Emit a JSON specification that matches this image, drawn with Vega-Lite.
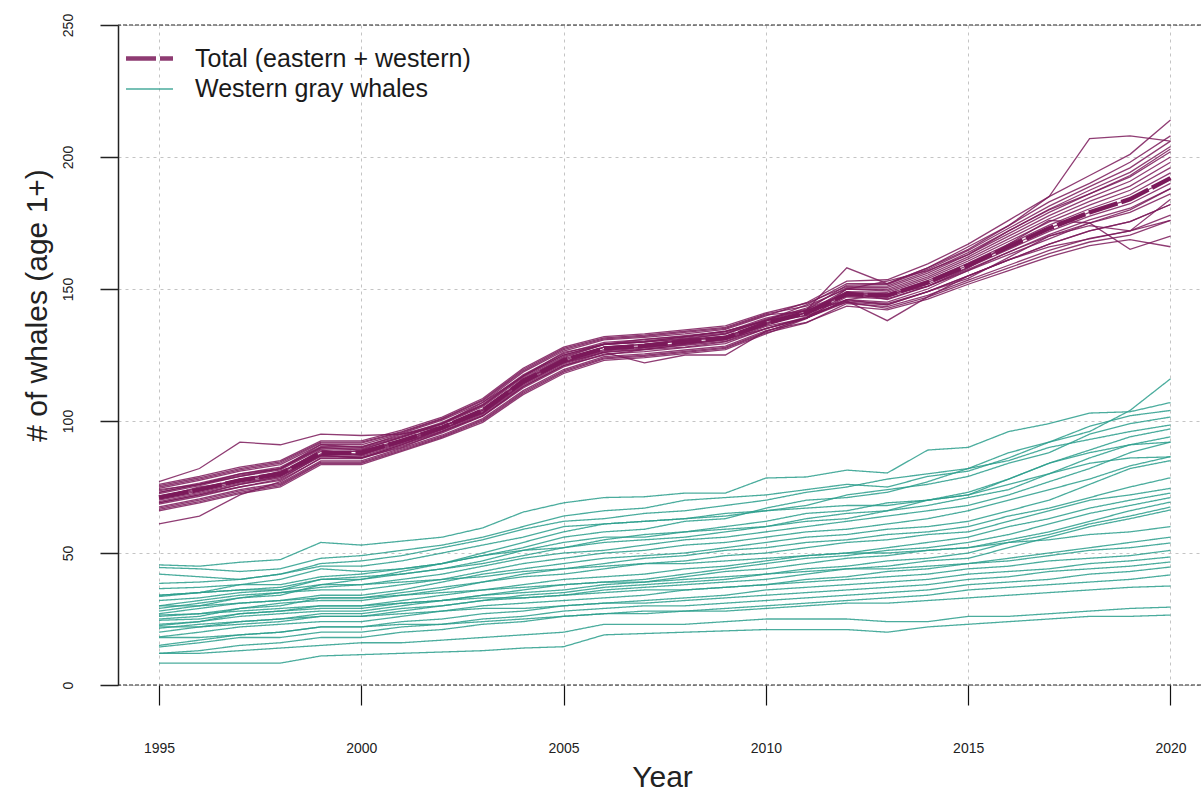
{
"$schema":"https://vega.github.io/schema/vega-lite/v6.json",
"width":1083,"height":660,
"autosize":{"type":"none"},
"padding":{"left":118,"top":25,"right":0,"bottom":108},
"background":"white",
"config":{"view":{"stroke":null},"font":"Liberation Sans"},
"datasets":{
"hl":[{"y":0},{"y":250}],
"med":[{"x":1995,"y":71},{"x":1996,"y":74},{"x":1997,"y":77.5},{"x":1998,"y":80},{"x":1999,"y":88},{"x":2000,"y":88},{"x":2001,"y":92.5},{"x":2002,"y":97.5},{"x":2003,"y":104},{"x":2004,"y":115},{"x":2005,"y":123},{"x":2006,"y":127.5},{"x":2007,"y":128.5},{"x":2008,"y":130},{"x":2009,"y":131.5},{"x":2010,"y":137},{"x":2011,"y":141},{"x":2012,"y":148},{"x":2013,"y":147.5},{"x":2014,"y":152.5},{"x":2015,"y":159},{"x":2016,"y":166},{"x":2017,"y":173},{"x":2018,"y":179},{"x":2019,"y":184},{"x":2020,"y":192}],
"total":[
{"i":1,"x":1995,"y":77},{"i":1,"x":1996,"y":82},{"i":1,"x":1997,"y":92},{"i":1,"x":1998,"y":91},{"i":1,"x":1999,"y":95},{"i":1,"x":2000,"y":94.5},{"i":1,"x":2001,"y":95},{"i":1,"x":2002,"y":98},{"i":1,"x":2003,"y":104},{"i":1,"x":2004,"y":116},{"i":1,"x":2005,"y":124},{"i":1,"x":2006,"y":129},{"i":1,"x":2007,"y":130},{"i":1,"x":2008,"y":132},{"i":1,"x":2009,"y":134},{"i":1,"x":2010,"y":138},{"i":1,"x":2011,"y":141},{"i":1,"x":2012,"y":150},{"i":1,"x":2013,"y":153},{"i":1,"x":2014,"y":157},{"i":1,"x":2015,"y":163},{"i":1,"x":2016,"y":172},{"i":1,"x":2017,"y":180},{"i":1,"x":2018,"y":186},{"i":1,"x":2019,"y":193},{"i":1,"x":2020,"y":203},
{"i":2,"x":1995,"y":61},{"i":2,"x":1996,"y":64},{"i":2,"x":1997,"y":72},{"i":2,"x":1998,"y":77},{"i":2,"x":1999,"y":86},{"i":2,"x":2000,"y":86},{"i":2,"x":2001,"y":91},{"i":2,"x":2002,"y":96},{"i":2,"x":2003,"y":102},{"i":2,"x":2004,"y":113},{"i":2,"x":2005,"y":121},{"i":2,"x":2006,"y":125},{"i":2,"x":2007,"y":127},{"i":2,"x":2008,"y":129},{"i":2,"x":2009,"y":131},{"i":2,"x":2010,"y":135},{"i":2,"x":2011,"y":139},{"i":2,"x":2012,"y":145},{"i":2,"x":2013,"y":144},{"i":2,"x":2014,"y":149},{"i":2,"x":2015,"y":155},{"i":2,"x":2016,"y":161},{"i":2,"x":2017,"y":166},{"i":2,"x":2018,"y":169},{"i":2,"x":2019,"y":172},{"i":2,"x":2020,"y":176},
{"i":3,"x":1995,"y":74.5},{"i":3,"x":1996,"y":77.5},{"i":3,"x":1997,"y":81},{"i":3,"x":1998,"y":83.5},{"i":3,"x":1999,"y":91},{"i":3,"x":2000,"y":91},{"i":3,"x":2001,"y":95.3},{"i":3,"x":2002,"y":100.3},{"i":3,"x":2003,"y":107},{"i":3,"x":2004,"y":118.5},{"i":3,"x":2005,"y":126.5},{"i":3,"x":2006,"y":130.7},{"i":3,"x":2007,"y":131.7},{"i":3,"x":2008,"y":133},{"i":3,"x":2009,"y":134.7},{"i":3,"x":2010,"y":139.8},{"i":3,"x":2011,"y":144.8},{"i":3,"x":2012,"y":153},{"i":3,"x":2013,"y":153.5},{"i":3,"x":2014,"y":159.5},{"i":3,"x":2015,"y":167},{"i":3,"x":2016,"y":176},{"i":3,"x":2017,"y":185},{"i":3,"x":2018,"y":193},{"i":3,"x":2019,"y":201},{"i":3,"x":2020,"y":214},
{"i":4,"x":1995,"y":69},{"i":4,"x":1996,"y":72},{"i":4,"x":1997,"y":76},{"i":4,"x":1998,"y":79},{"i":4,"x":1999,"y":87},{"i":4,"x":2000,"y":86},{"i":4,"x":2001,"y":91},{"i":4,"x":2002,"y":97},{"i":4,"x":2003,"y":103},{"i":4,"x":2004,"y":114},{"i":4,"x":2005,"y":122},{"i":4,"x":2006,"y":126},{"i":4,"x":2007,"y":122},{"i":4,"x":2008,"y":125},{"i":4,"x":2009,"y":125},{"i":4,"x":2010,"y":134},{"i":4,"x":2011,"y":139},{"i":4,"x":2012,"y":146},{"i":4,"x":2013,"y":145},{"i":4,"x":2014,"y":150},{"i":4,"x":2015,"y":157},{"i":4,"x":2016,"y":164},{"i":4,"x":2017,"y":170},{"i":4,"x":2018,"y":175},{"i":4,"x":2019,"y":180},{"i":4,"x":2020,"y":188},
{"i":5,"x":1995,"y":73},{"i":5,"x":1996,"y":76},{"i":5,"x":1997,"y":79},{"i":5,"x":1998,"y":82},{"i":5,"x":1999,"y":90},{"i":5,"x":2000,"y":89},{"i":5,"x":2001,"y":94},{"i":5,"x":2002,"y":99},{"i":5,"x":2003,"y":106},{"i":5,"x":2004,"y":117},{"i":5,"x":2005,"y":125},{"i":5,"x":2006,"y":129},{"i":5,"x":2007,"y":130},{"i":5,"x":2008,"y":131},{"i":5,"x":2009,"y":133},{"i":5,"x":2010,"y":138},{"i":5,"x":2011,"y":142},{"i":5,"x":2012,"y":158},{"i":5,"x":2013,"y":152},{"i":5,"x":2014,"y":158},{"i":5,"x":2015,"y":166},{"i":5,"x":2016,"y":174},{"i":5,"x":2017,"y":185},{"i":5,"x":2018,"y":207},{"i":5,"x":2019,"y":208},{"i":5,"x":2020,"y":206},
{"i":6,"x":1995,"y":69.5},{"i":6,"x":1996,"y":72.5},{"i":6,"x":1997,"y":76},{"i":6,"x":1998,"y":78.5},{"i":6,"x":1999,"y":86.6},{"i":6,"x":2000,"y":86.6},{"i":6,"x":2001,"y":91.3},{"i":6,"x":2002,"y":96.3},{"i":6,"x":2003,"y":102.6},{"i":6,"x":2004,"y":113.5},{"i":6,"x":2005,"y":121.5},{"i":6,"x":2006,"y":126.2},{"i":6,"x":2007,"y":127.2},{"i":6,"x":2008,"y":128.7},{"i":6,"x":2009,"y":130.2},{"i":6,"x":2010,"y":135.8},{"i":6,"x":2011,"y":139},{"i":6,"x":2012,"y":145.5},{"i":6,"x":2013,"y":138},{"i":6,"x":2014,"y":147},{"i":6,"x":2015,"y":155},{"i":6,"x":2016,"y":161},{"i":6,"x":2017,"y":167},{"i":6,"x":2018,"y":172},{"i":6,"x":2019,"y":175.5},{"i":6,"x":2020,"y":182},
{"i":7,"x":1995,"y":71},{"i":7,"x":1996,"y":74},{"i":7,"x":1997,"y":78},{"i":7,"x":1998,"y":80},{"i":7,"x":1999,"y":89},{"i":7,"x":2000,"y":87},{"i":7,"x":2001,"y":93},{"i":7,"x":2002,"y":98},{"i":7,"x":2003,"y":104},{"i":7,"x":2004,"y":115},{"i":7,"x":2005,"y":123},{"i":7,"x":2006,"y":128},{"i":7,"x":2007,"y":129},{"i":7,"x":2008,"y":131},{"i":7,"x":2009,"y":132},{"i":7,"x":2010,"y":137},{"i":7,"x":2011,"y":141},{"i":7,"x":2012,"y":146},{"i":7,"x":2013,"y":148},{"i":7,"x":2014,"y":151},{"i":7,"x":2015,"y":158},{"i":7,"x":2016,"y":167},{"i":7,"x":2017,"y":176},{"i":7,"x":2018,"y":175},{"i":7,"x":2019,"y":165},{"i":7,"x":2020,"y":170},
{"i":8,"x":1995,"y":75.5},{"i":8,"x":1996,"y":78.5},{"i":8,"x":1997,"y":82},{"i":8,"x":1998,"y":84.5},{"i":8,"x":1999,"y":92},{"i":8,"x":2000,"y":92},{"i":8,"x":2001,"y":96},{"i":8,"x":2002,"y":101},{"i":8,"x":2003,"y":108},{"i":8,"x":2004,"y":119.5},{"i":8,"x":2005,"y":127.5},{"i":8,"x":2006,"y":131.5},{"i":8,"x":2007,"y":132.5},{"i":8,"x":2008,"y":134},{"i":8,"x":2009,"y":135.5},{"i":8,"x":2010,"y":140.6},{"i":8,"x":2011,"y":143.5},{"i":8,"x":2012,"y":150},{"i":8,"x":2013,"y":149.3},{"i":8,"x":2014,"y":154.6},{"i":8,"x":2015,"y":161.4},{"i":8,"x":2016,"y":169},{"i":8,"x":2017,"y":176.6},{"i":8,"x":2018,"y":183.2},{"i":8,"x":2019,"y":189},{"i":8,"x":2020,"y":198},
{"i":9,"x":1995,"y":66.5},{"i":9,"x":1996,"y":69.5},{"i":9,"x":1997,"y":73},{"i":9,"x":1998,"y":75.5},{"i":9,"x":1999,"y":84},{"i":9,"x":2000,"y":84},{"i":9,"x":2001,"y":88.9},{"i":9,"x":2002,"y":93.9},{"i":9,"x":2003,"y":100},{"i":9,"x":2004,"y":110.5},{"i":9,"x":2005,"y":118.5},{"i":9,"x":2006,"y":123.5},{"i":9,"x":2007,"y":124.5},{"i":9,"x":2008,"y":126},{"i":9,"x":2009,"y":127.5},{"i":9,"x":2010,"y":133.4},{"i":9,"x":2011,"y":137.2},{"i":9,"x":2012,"y":144.5},{"i":9,"x":2013,"y":143.3},{"i":9,"x":2014,"y":147.6},{"i":9,"x":2015,"y":153.4},{"i":9,"x":2016,"y":159},{"i":9,"x":2017,"y":164.6},{"i":9,"x":2018,"y":169.2},{"i":9,"x":2019,"y":172},{"i":9,"x":2020,"y":178},
{"i":10,"x":1995,"y":72.5},{"i":10,"x":1996,"y":75.5},{"i":10,"x":1997,"y":79},{"i":10,"x":1998,"y":81.5},{"i":10,"x":1999,"y":89.4},{"i":10,"x":2000,"y":89.4},{"i":10,"x":2001,"y":93.7},{"i":10,"x":2002,"y":98.7},{"i":10,"x":2003,"y":105.4},{"i":10,"x":2004,"y":116.5},{"i":10,"x":2005,"y":124.5},{"i":10,"x":2006,"y":128.9},{"i":10,"x":2007,"y":129.9},{"i":10,"x":2008,"y":131.4},{"i":10,"x":2009,"y":132.9},{"i":10,"x":2010,"y":138.2},{"i":10,"x":2011,"y":142.8},{"i":10,"x":2012,"y":150.5},{"i":10,"x":2013,"y":150.5},{"i":10,"x":2014,"y":156},{"i":10,"x":2015,"y":163},{"i":10,"x":2016,"y":171},{"i":10,"x":2017,"y":179},{"i":10,"x":2018,"y":186},{"i":10,"x":2019,"y":192.5},{"i":10,"x":2020,"y":202},
{"i":11,"x":1995,"y":68.5},{"i":11,"x":1996,"y":71.5},{"i":11,"x":1997,"y":75},{"i":11,"x":1998,"y":77.5},{"i":11,"x":1999,"y":85.8},{"i":11,"x":2000,"y":85.8},{"i":11,"x":2001,"y":90.5},{"i":11,"x":2002,"y":95.5},{"i":11,"x":2003,"y":101.8},{"i":11,"x":2004,"y":112.5},{"i":11,"x":2005,"y":120.5},{"i":11,"x":2006,"y":125.3},{"i":11,"x":2007,"y":126.3},{"i":11,"x":2008,"y":127.8},{"i":11,"x":2009,"y":129.3},{"i":11,"x":2010,"y":135},{"i":11,"x":2011,"y":139.4},{"i":11,"x":2012,"y":147},{"i":11,"x":2013,"y":146.3},{"i":11,"x":2014,"y":151.1},{"i":11,"x":2015,"y":157.4},{"i":11,"x":2016,"y":164},{"i":11,"x":2017,"y":170.6},{"i":11,"x":2018,"y":176.2},{"i":11,"x":2019,"y":180.6},{"i":11,"x":2020,"y":188},
{"i":12,"x":1995,"y":73.5},{"i":12,"x":1996,"y":76.5},{"i":12,"x":1997,"y":80},{"i":12,"x":1998,"y":82.5},{"i":12,"x":1999,"y":90.3},{"i":12,"x":2000,"y":90.3},{"i":12,"x":2001,"y":94.5},{"i":12,"x":2002,"y":99.5},{"i":12,"x":2003,"y":106.3},{"i":12,"x":2004,"y":117.5},{"i":12,"x":2005,"y":125.5},{"i":12,"x":2006,"y":129.8},{"i":12,"x":2007,"y":130.8},{"i":12,"x":2008,"y":132.3},{"i":12,"x":2009,"y":133.8},{"i":12,"x":2010,"y":139},{"i":12,"x":2011,"y":142.4},{"i":12,"x":2012,"y":148.5},{"i":12,"x":2013,"y":148.1},{"i":12,"x":2014,"y":153.2},{"i":12,"x":2015,"y":159.8},{"i":12,"x":2016,"y":167},{"i":12,"x":2017,"y":174.2},{"i":12,"x":2018,"y":180.4},{"i":12,"x":2019,"y":185.7},{"i":12,"x":2020,"y":194},
{"i":13,"x":1995,"y":70.5},{"i":13,"x":1996,"y":73.5},{"i":13,"x":1997,"y":77},{"i":13,"x":1998,"y":79.5},{"i":13,"x":1999,"y":87.5},{"i":13,"x":2000,"y":87.5},{"i":13,"x":2001,"y":92.1},{"i":13,"x":2002,"y":97.1},{"i":13,"x":2003,"y":103.5},{"i":13,"x":2004,"y":114.5},{"i":13,"x":2005,"y":122.5},{"i":13,"x":2006,"y":127},{"i":13,"x":2007,"y":128},{"i":13,"x":2008,"y":129.5},{"i":13,"x":2009,"y":131},{"i":13,"x":2010,"y":136.6},{"i":13,"x":2011,"y":142},{"i":13,"x":2012,"y":151.5},{"i":13,"x":2013,"y":151.7},{"i":13,"x":2014,"y":157.4},{"i":13,"x":2015,"y":164.6},{"i":13,"x":2016,"y":173},{"i":13,"x":2017,"y":181.4},{"i":13,"x":2018,"y":188.8},{"i":13,"x":2019,"y":195.9},{"i":13,"x":2020,"y":206},
{"i":14,"x":1995,"y":76},{"i":14,"x":1996,"y":79},{"i":14,"x":1997,"y":82.5},{"i":14,"x":1998,"y":85},{"i":14,"x":1999,"y":92.5},{"i":14,"x":2000,"y":92.5},{"i":14,"x":2001,"y":96.5},{"i":14,"x":2002,"y":101.5},{"i":14,"x":2003,"y":108.5},{"i":14,"x":2004,"y":120},{"i":14,"x":2005,"y":128},{"i":14,"x":2006,"y":132},{"i":14,"x":2007,"y":133},{"i":14,"x":2008,"y":134.5},{"i":14,"x":2009,"y":136},{"i":14,"x":2010,"y":141},{"i":14,"x":2011,"y":144.6},{"i":14,"x":2012,"y":151},{"i":14,"x":2013,"y":151.1},{"i":14,"x":2014,"y":156.7},{"i":14,"x":2015,"y":163.8},{"i":14,"x":2016,"y":172},{"i":14,"x":2017,"y":180.2},{"i":14,"x":2018,"y":187.4},{"i":14,"x":2019,"y":194.2},{"i":14,"x":2020,"y":204},
{"i":15,"x":1995,"y":67.5},{"i":15,"x":1996,"y":70.5},{"i":15,"x":1997,"y":74},{"i":15,"x":1998,"y":76.5},{"i":15,"x":1999,"y":84.9},{"i":15,"x":2000,"y":84.9},{"i":15,"x":2001,"y":89.7},{"i":15,"x":2002,"y":94.7},{"i":15,"x":2003,"y":100.9},{"i":15,"x":2004,"y":111.5},{"i":15,"x":2005,"y":119.5},{"i":15,"x":2006,"y":124.4},{"i":15,"x":2007,"y":125.4},{"i":15,"x":2008,"y":126.9},{"i":15,"x":2009,"y":128.4},{"i":15,"x":2010,"y":134.2},{"i":15,"x":2011,"y":137.4},{"i":15,"x":2012,"y":143.5},{"i":15,"x":2013,"y":142.1},{"i":15,"x":2014,"y":146.2},{"i":15,"x":2015,"y":151.8},{"i":15,"x":2016,"y":157},{"i":15,"x":2017,"y":162.2},{"i":15,"x":2018,"y":166.4},{"i":15,"x":2019,"y":168.7},{"i":15,"x":2020,"y":166},
{"i":16,"x":1995,"y":71.5},{"i":16,"x":1996,"y":74.5},{"i":16,"x":1997,"y":78},{"i":16,"x":1998,"y":80.5},{"i":16,"x":1999,"y":88.5},{"i":16,"x":2000,"y":88.5},{"i":16,"x":2001,"y":92.9},{"i":16,"x":2002,"y":97.9},{"i":16,"x":2003,"y":104.5},{"i":16,"x":2004,"y":115.5},{"i":16,"x":2005,"y":123.5},{"i":16,"x":2006,"y":128},{"i":16,"x":2007,"y":129},{"i":16,"x":2008,"y":130.5},{"i":16,"x":2009,"y":132},{"i":16,"x":2010,"y":137.4},{"i":16,"x":2011,"y":139.9},{"i":16,"x":2012,"y":145},{"i":16,"x":2013,"y":142.7},{"i":16,"x":2014,"y":146.9},{"i":16,"x":2015,"y":152.6},{"i":16,"x":2016,"y":158},{"i":16,"x":2017,"y":163.4},{"i":16,"x":2018,"y":167.8},{"i":16,"x":2019,"y":170.4},{"i":16,"x":2020,"y":176},
{"i":17,"x":1995,"y":67},{"i":17,"x":1996,"y":70},{"i":17,"x":1997,"y":73.5},{"i":17,"x":1998,"y":76},{"i":17,"x":1999,"y":84.4},{"i":17,"x":2000,"y":84.4},{"i":17,"x":2001,"y":89.3},{"i":17,"x":2002,"y":94.3},{"i":17,"x":2003,"y":100.4},{"i":17,"x":2004,"y":111},{"i":17,"x":2005,"y":119},{"i":17,"x":2006,"y":123.9},{"i":17,"x":2007,"y":124.9},{"i":17,"x":2008,"y":126.4},{"i":17,"x":2009,"y":127.9},{"i":17,"x":2010,"y":133.8},{"i":17,"x":2011,"y":139},{"i":17,"x":2012,"y":150},{"i":17,"x":2013,"y":149.9},{"i":17,"x":2014,"y":155.3},{"i":17,"x":2015,"y":162.2},{"i":17,"x":2016,"y":170},{"i":17,"x":2017,"y":177.8},{"i":17,"x":2018,"y":184.6},{"i":17,"x":2019,"y":190.8},{"i":17,"x":2020,"y":200},
{"i":18,"x":1995,"y":73},{"i":18,"x":1996,"y":76},{"i":18,"x":1997,"y":79.5},{"i":18,"x":1998,"y":82},{"i":18,"x":1999,"y":89.8},{"i":18,"x":2000,"y":89.8},{"i":18,"x":2001,"y":94.1},{"i":18,"x":2002,"y":99.1},{"i":18,"x":2003,"y":105.8},{"i":18,"x":2004,"y":117},{"i":18,"x":2005,"y":125},{"i":18,"x":2006,"y":129.3},{"i":18,"x":2007,"y":130.3},{"i":18,"x":2008,"y":131.8},{"i":18,"x":2009,"y":133.3},{"i":18,"x":2010,"y":138.6},{"i":18,"x":2011,"y":142},{"i":18,"x":2012,"y":147.5},{"i":18,"x":2013,"y":146.9},{"i":18,"x":2014,"y":151.8},{"i":18,"x":2015,"y":158.2},{"i":18,"x":2016,"y":165},{"i":18,"x":2017,"y":171.8},{"i":18,"x":2018,"y":177.6},{"i":18,"x":2019,"y":182.3},{"i":18,"x":2020,"y":190},
{"i":19,"x":1995,"y":70},{"i":19,"x":1996,"y":73},{"i":19,"x":1997,"y":76.5},{"i":19,"x":1998,"y":79},{"i":19,"x":1999,"y":87.1},{"i":19,"x":2000,"y":87.1},{"i":19,"x":2001,"y":91.7},{"i":19,"x":2002,"y":96.7},{"i":19,"x":2003,"y":103.1},{"i":19,"x":2004,"y":114},{"i":19,"x":2005,"y":122},{"i":19,"x":2006,"y":126.6},{"i":19,"x":2007,"y":127.6},{"i":19,"x":2008,"y":129.1},{"i":19,"x":2009,"y":130.6},{"i":19,"x":2010,"y":136.2},{"i":19,"x":2011,"y":141},{"i":19,"x":2012,"y":149},{"i":19,"x":2013,"y":148.7},{"i":19,"x":2014,"y":153.9},{"i":19,"x":2015,"y":160.6},{"i":19,"x":2016,"y":168},{"i":19,"x":2017,"y":175.4},{"i":19,"x":2018,"y":181.8},{"i":19,"x":2019,"y":187.4},{"i":19,"x":2020,"y":196},
{"i":20,"x":1995,"y":75},{"i":20,"x":1996,"y":78},{"i":20,"x":1997,"y":81.5},{"i":20,"x":1998,"y":84},{"i":20,"x":1999,"y":91.6},{"i":20,"x":2000,"y":91.6},{"i":20,"x":2001,"y":95.7},{"i":20,"x":2002,"y":100.7},{"i":20,"x":2003,"y":107.6},{"i":20,"x":2004,"y":119},{"i":20,"x":2005,"y":127},{"i":20,"x":2006,"y":131.1},{"i":20,"x":2007,"y":132.1},{"i":20,"x":2008,"y":133.6},{"i":20,"x":2009,"y":135.1},{"i":20,"x":2010,"y":140.2},{"i":20,"x":2011,"y":141.5},{"i":20,"x":2012,"y":145.5},{"i":20,"x":2013,"y":144.5},{"i":20,"x":2014,"y":149},{"i":20,"x":2015,"y":155},{"i":20,"x":2016,"y":161},{"i":20,"x":2017,"y":167},{"i":20,"x":2018,"y":172},{"i":20,"x":2019,"y":175.5},{"i":20,"x":2020,"y":182},
{"i":21,"x":1995,"y":66},{"i":21,"x":1996,"y":69},{"i":21,"x":1997,"y":72.5},{"i":21,"x":1998,"y":75},{"i":21,"x":1999,"y":83.5},{"i":21,"x":2000,"y":83.5},{"i":21,"x":2001,"y":88.5},{"i":21,"x":2002,"y":93.5},{"i":21,"x":2003,"y":99.5},{"i":21,"x":2004,"y":110},{"i":21,"x":2005,"y":118},{"i":21,"x":2006,"y":123},{"i":21,"x":2007,"y":124},{"i":21,"x":2008,"y":125.5},{"i":21,"x":2009,"y":127},{"i":21,"x":2010,"y":133},{"i":21,"x":2011,"y":138.8},{"i":21,"x":2012,"y":148},{"i":21,"x":2013,"y":147.5},{"i":21,"x":2014,"y":152.5},{"i":21,"x":2015,"y":159},{"i":21,"x":2016,"y":166},{"i":21,"x":2017,"y":173},{"i":21,"x":2018,"y":179},{"i":21,"x":2019,"y":184},{"i":21,"x":2020,"y":192},
{"i":22,"x":1995,"y":71},{"i":22,"x":1996,"y":75},{"i":22,"x":1997,"y":77},{"i":22,"x":1998,"y":81},{"i":22,"x":1999,"y":87},{"i":22,"x":2000,"y":89},{"i":22,"x":2001,"y":92},{"i":22,"x":2002,"y":98},{"i":22,"x":2003,"y":103},{"i":22,"x":2004,"y":116},{"i":22,"x":2005,"y":122},{"i":22,"x":2006,"y":128},{"i":22,"x":2007,"y":128},{"i":22,"x":2008,"y":131},{"i":22,"x":2009,"y":131},{"i":22,"x":2010,"y":138},{"i":22,"x":2011,"y":140},{"i":22,"x":2012,"y":149},{"i":22,"x":2013,"y":146},{"i":22,"x":2014,"y":151},{"i":22,"x":2015,"y":157},{"i":22,"x":2016,"y":163},{"i":22,"x":2017,"y":169},{"i":22,"x":2018,"y":175},{"i":22,"x":2019,"y":179},{"i":22,"x":2020,"y":186},
{"i":23,"x":1995,"y":74},{"i":23,"x":1996,"y":76},{"i":23,"x":1997,"y":80},{"i":23,"x":1998,"y":82},{"i":23,"x":1999,"y":91},{"i":23,"x":2000,"y":90},{"i":23,"x":2001,"y":95},{"i":23,"x":2002,"y":99},{"i":23,"x":2003,"y":107},{"i":23,"x":2004,"y":117},{"i":23,"x":2005,"y":126},{"i":23,"x":2006,"y":129},{"i":23,"x":2007,"y":131},{"i":23,"x":2008,"y":132},{"i":23,"x":2009,"y":134},{"i":23,"x":2010,"y":138},{"i":23,"x":2011,"y":144},{"i":23,"x":2012,"y":152},{"i":23,"x":2013,"y":152},{"i":23,"x":2014,"y":158},{"i":23,"x":2015,"y":165},{"i":23,"x":2016,"y":174},{"i":23,"x":2017,"y":183},{"i":23,"x":2018,"y":190},{"i":23,"x":2019,"y":198},{"i":23,"x":2020,"y":208},
{"i":24,"x":1995,"y":69},{"i":24,"x":1996,"y":72},{"i":24,"x":1997,"y":75},{"i":24,"x":1998,"y":78},{"i":24,"x":1999,"y":87},{"i":24,"x":2000,"y":86},{"i":24,"x":2001,"y":90},{"i":24,"x":2002,"y":96},{"i":24,"x":2003,"y":102},{"i":24,"x":2004,"y":113},{"i":24,"x":2005,"y":121},{"i":24,"x":2006,"y":126},{"i":24,"x":2007,"y":127},{"i":24,"x":2008,"y":128},{"i":24,"x":2009,"y":130},{"i":24,"x":2010,"y":135},{"i":24,"x":2011,"y":139},{"i":24,"x":2012,"y":146},{"i":24,"x":2013,"y":144},{"i":24,"x":2014,"y":149},{"i":24,"x":2015,"y":154},{"i":24,"x":2016,"y":162},{"i":24,"x":2017,"y":170},{"i":24,"x":2018,"y":174},{"i":24,"x":2019,"y":172},{"i":24,"x":2020,"y":184}
],
"west":[
{"i":1,"x":1995,"y":45.5},{"i":1,"x":1996,"y":45},{"i":1,"x":1997,"y":46.5},{"i":1,"x":1998,"y":47.5},{"i":1,"x":1999,"y":54},{"i":1,"x":2000,"y":53},{"i":1,"x":2001,"y":54.5},{"i":1,"x":2002,"y":56},{"i":1,"x":2003,"y":59.5},{"i":1,"x":2004,"y":65.5},{"i":1,"x":2005,"y":69},{"i":1,"x":2006,"y":71},{"i":1,"x":2007,"y":71.3},{"i":1,"x":2008,"y":72.7},{"i":1,"x":2009,"y":72.7},{"i":1,"x":2010,"y":78.4},{"i":1,"x":2011,"y":78.8},{"i":1,"x":2012,"y":81.4},{"i":1,"x":2013,"y":80.3},{"i":1,"x":2014,"y":89},{"i":1,"x":2015,"y":90},{"i":1,"x":2016,"y":96},{"i":1,"x":2017,"y":99},{"i":1,"x":2018,"y":103},{"i":1,"x":2019,"y":103.5},{"i":1,"x":2020,"y":107},
{"i":2,"x":1995,"y":44.5},{"i":2,"x":1996,"y":44},{"i":2,"x":1997,"y":43},{"i":2,"x":1998,"y":44},{"i":2,"x":1999,"y":48},{"i":2,"x":2000,"y":49},{"i":2,"x":2001,"y":51},{"i":2,"x":2002,"y":53},{"i":2,"x":2003,"y":56},{"i":2,"x":2004,"y":60},{"i":2,"x":2005,"y":64},{"i":2,"x":2006,"y":66},{"i":2,"x":2007,"y":67},{"i":2,"x":2008,"y":70},{"i":2,"x":2009,"y":71},{"i":2,"x":2010,"y":72},{"i":2,"x":2011,"y":74},{"i":2,"x":2012,"y":76},{"i":2,"x":2013,"y":75},{"i":2,"x":2014,"y":79},{"i":2,"x":2015,"y":81},{"i":2,"x":2016,"y":86},{"i":2,"x":2017,"y":92},{"i":2,"x":2018,"y":96},{"i":2,"x":2019,"y":104},{"i":2,"x":2020,"y":116},
{"i":3,"x":1995,"y":42},{"i":3,"x":1996,"y":41},{"i":3,"x":1997,"y":40},{"i":3,"x":1998,"y":42},{"i":3,"x":1999,"y":46},{"i":3,"x":2000,"y":47},{"i":3,"x":2001,"y":49},{"i":3,"x":2002,"y":52},{"i":3,"x":2003,"y":55},{"i":3,"x":2004,"y":59},{"i":3,"x":2005,"y":62},{"i":3,"x":2006,"y":63},{"i":3,"x":2007,"y":65},{"i":3,"x":2008,"y":66},{"i":3,"x":2009,"y":68},{"i":3,"x":2010,"y":70},{"i":3,"x":2011,"y":73},{"i":3,"x":2012,"y":75},{"i":3,"x":2013,"y":78},{"i":3,"x":2014,"y":80},{"i":3,"x":2015,"y":82},{"i":3,"x":2016,"y":88},{"i":3,"x":2017,"y":92},{"i":3,"x":2018,"y":98},{"i":3,"x":2019,"y":102},{"i":3,"x":2020,"y":104},
{"i":4,"x":1995,"y":38.5},{"i":4,"x":1996,"y":39},{"i":4,"x":1997,"y":40},{"i":4,"x":1998,"y":42},{"i":4,"x":1999,"y":45},{"i":4,"x":2000,"y":45},{"i":4,"x":2001,"y":47},{"i":4,"x":2002,"y":50},{"i":4,"x":2003,"y":53},{"i":4,"x":2004,"y":56},{"i":4,"x":2005,"y":60},{"i":4,"x":2006,"y":61},{"i":4,"x":2007,"y":62},{"i":4,"x":2008,"y":63},{"i":4,"x":2009,"y":65},{"i":4,"x":2010,"y":66},{"i":4,"x":2011,"y":68},{"i":4,"x":2012,"y":72},{"i":4,"x":2013,"y":74},{"i":4,"x":2014,"y":76},{"i":4,"x":2015,"y":79},{"i":4,"x":2016,"y":84},{"i":4,"x":2017,"y":88},{"i":4,"x":2018,"y":95},{"i":4,"x":2019,"y":99},{"i":4,"x":2020,"y":101.5},
{"i":5,"x":1995,"y":36.5},{"i":5,"x":1996,"y":37},{"i":5,"x":1997,"y":38},{"i":5,"x":1998,"y":40},{"i":5,"x":1999,"y":44},{"i":5,"x":2000,"y":43},{"i":5,"x":2001,"y":44},{"i":5,"x":2002,"y":46},{"i":5,"x":2003,"y":49},{"i":5,"x":2004,"y":52},{"i":5,"x":2005,"y":56},{"i":5,"x":2006,"y":58},{"i":5,"x":2007,"y":59},{"i":5,"x":2008,"y":62},{"i":5,"x":2009,"y":63},{"i":5,"x":2010,"y":67},{"i":5,"x":2011,"y":70},{"i":5,"x":2012,"y":71},{"i":5,"x":2013,"y":73},{"i":5,"x":2014,"y":77},{"i":5,"x":2015,"y":82},{"i":5,"x":2016,"y":85},{"i":5,"x":2017,"y":90},{"i":5,"x":2018,"y":93},{"i":5,"x":2019,"y":96},{"i":5,"x":2020,"y":98.5},
{"i":6,"x":1995,"y":34},{"i":6,"x":1996,"y":35},{"i":6,"x":1997,"y":36},{"i":6,"x":1998,"y":37},{"i":6,"x":1999,"y":40},{"i":6,"x":2000,"y":40},{"i":6,"x":2001,"y":42},{"i":6,"x":2002,"y":44},{"i":6,"x":2003,"y":47},{"i":6,"x":2004,"y":51},{"i":6,"x":2005,"y":54},{"i":6,"x":2006,"y":56},{"i":6,"x":2007,"y":56},{"i":6,"x":2008,"y":58},{"i":6,"x":2009,"y":60},{"i":6,"x":2010,"y":62},{"i":6,"x":2011,"y":65},{"i":6,"x":2012,"y":66},{"i":6,"x":2013,"y":69},{"i":6,"x":2014,"y":70},{"i":6,"x":2015,"y":72},{"i":6,"x":2016,"y":78},{"i":6,"x":2017,"y":84},{"i":6,"x":2018,"y":89},{"i":6,"x":2019,"y":94},{"i":6,"x":2020,"y":97},
{"i":7,"x":1995,"y":33.5},{"i":7,"x":1996,"y":35},{"i":7,"x":1997,"y":38},{"i":7,"x":1998,"y":38},{"i":7,"x":1999,"y":41},{"i":7,"x":2000,"y":42},{"i":7,"x":2001,"y":44},{"i":7,"x":2002,"y":46},{"i":7,"x":2003,"y":49},{"i":7,"x":2004,"y":51},{"i":7,"x":2005,"y":52},{"i":7,"x":2006,"y":55},{"i":7,"x":2007,"y":57},{"i":7,"x":2008,"y":58},{"i":7,"x":2009,"y":59},{"i":7,"x":2010,"y":60},{"i":7,"x":2011,"y":62},{"i":7,"x":2012,"y":63},{"i":7,"x":2013,"y":66},{"i":7,"x":2014,"y":68},{"i":7,"x":2015,"y":71},{"i":7,"x":2016,"y":74},{"i":7,"x":2017,"y":80},{"i":7,"x":2018,"y":86},{"i":7,"x":2019,"y":91},{"i":7,"x":2020,"y":94},
{"i":8,"x":1995,"y":30},{"i":8,"x":1996,"y":32},{"i":8,"x":1997,"y":34},{"i":8,"x":1998,"y":35},{"i":8,"x":1999,"y":37},{"i":8,"x":2000,"y":38},{"i":8,"x":2001,"y":40},{"i":8,"x":2002,"y":42},{"i":8,"x":2003,"y":45},{"i":8,"x":2004,"y":48},{"i":8,"x":2005,"y":50},{"i":8,"x":2006,"y":51},{"i":8,"x":2007,"y":53},{"i":8,"x":2008,"y":55},{"i":8,"x":2009,"y":56},{"i":8,"x":2010,"y":58},{"i":8,"x":2011,"y":60},{"i":8,"x":2012,"y":62},{"i":8,"x":2013,"y":64},{"i":8,"x":2014,"y":66},{"i":8,"x":2015,"y":68},{"i":8,"x":2016,"y":72},{"i":8,"x":2017,"y":77},{"i":8,"x":2018,"y":82},{"i":8,"x":2019,"y":88},{"i":8,"x":2020,"y":92},
{"i":9,"x":1995,"y":29},{"i":9,"x":1996,"y":31},{"i":9,"x":1997,"y":33},{"i":9,"x":1998,"y":35},{"i":9,"x":1999,"y":36},{"i":9,"x":2000,"y":36},{"i":9,"x":2001,"y":38},{"i":9,"x":2002,"y":40},{"i":9,"x":2003,"y":43},{"i":9,"x":2004,"y":46},{"i":9,"x":2005,"y":48},{"i":9,"x":2006,"y":50},{"i":9,"x":2007,"y":51},{"i":9,"x":2008,"y":53},{"i":9,"x":2009,"y":54},{"i":9,"x":2010,"y":56},{"i":9,"x":2011,"y":58},{"i":9,"x":2012,"y":59},{"i":9,"x":2013,"y":61},{"i":9,"x":2014,"y":63},{"i":9,"x":2015,"y":66},{"i":9,"x":2016,"y":70},{"i":9,"x":2017,"y":74},{"i":9,"x":2018,"y":78},{"i":9,"x":2019,"y":83},{"i":9,"x":2020,"y":86.5},
{"i":10,"x":1995,"y":27},{"i":10,"x":1996,"y":29},{"i":10,"x":1997,"y":31},{"i":10,"x":1998,"y":32},{"i":10,"x":1999,"y":34},{"i":10,"x":2000,"y":34},{"i":10,"x":2001,"y":36},{"i":10,"x":2002,"y":39},{"i":10,"x":2003,"y":42},{"i":10,"x":2004,"y":44},{"i":10,"x":2005,"y":46},{"i":10,"x":2006,"y":48},{"i":10,"x":2007,"y":49},{"i":10,"x":2008,"y":50},{"i":10,"x":2009,"y":52},{"i":10,"x":2010,"y":54},{"i":10,"x":2011,"y":56},{"i":10,"x":2012,"y":57},{"i":10,"x":2013,"y":59},{"i":10,"x":2014,"y":60},{"i":10,"x":2015,"y":62},{"i":10,"x":2016,"y":66},{"i":10,"x":2017,"y":70},{"i":10,"x":2018,"y":76},{"i":10,"x":2019,"y":82},{"i":10,"x":2020,"y":85},
{"i":11,"x":1995,"y":26.5},{"i":11,"x":1996,"y":27},{"i":11,"x":1997,"y":29},{"i":11,"x":1998,"y":31},{"i":11,"x":1999,"y":32},{"i":11,"x":2000,"y":32},{"i":11,"x":2001,"y":34},{"i":11,"x":2002,"y":36},{"i":11,"x":2003,"y":39},{"i":11,"x":2004,"y":42},{"i":11,"x":2005,"y":44},{"i":11,"x":2006,"y":46},{"i":11,"x":2007,"y":48},{"i":11,"x":2008,"y":49},{"i":11,"x":2009,"y":51},{"i":11,"x":2010,"y":52},{"i":11,"x":2011,"y":54},{"i":11,"x":2012,"y":55},{"i":11,"x":2013,"y":57},{"i":11,"x":2014,"y":58},{"i":11,"x":2015,"y":60},{"i":11,"x":2016,"y":64},{"i":11,"x":2017,"y":67},{"i":11,"x":2018,"y":71},{"i":11,"x":2019,"y":75},{"i":11,"x":2020,"y":78.5},
{"i":12,"x":1995,"y":25},{"i":12,"x":1996,"y":26},{"i":12,"x":1997,"y":29},{"i":12,"x":1998,"y":30},{"i":12,"x":1999,"y":33},{"i":12,"x":2000,"y":33},{"i":12,"x":2001,"y":35},{"i":12,"x":2002,"y":37},{"i":12,"x":2003,"y":39},{"i":12,"x":2004,"y":41},{"i":12,"x":2005,"y":42},{"i":12,"x":2006,"y":44},{"i":12,"x":2007,"y":46},{"i":12,"x":2008,"y":47},{"i":12,"x":2009,"y":49},{"i":12,"x":2010,"y":50},{"i":12,"x":2011,"y":52},{"i":12,"x":2012,"y":54},{"i":12,"x":2013,"y":55},{"i":12,"x":2014,"y":57},{"i":12,"x":2015,"y":58},{"i":12,"x":2016,"y":62},{"i":12,"x":2017,"y":66},{"i":12,"x":2018,"y":70},{"i":12,"x":2019,"y":72},{"i":12,"x":2020,"y":74.5},
{"i":13,"x":1995,"y":24.5},{"i":13,"x":1996,"y":25},{"i":13,"x":1997,"y":27},{"i":13,"x":1998,"y":28},{"i":13,"x":1999,"y":30},{"i":13,"x":2000,"y":30},{"i":13,"x":2001,"y":32},{"i":13,"x":2002,"y":34},{"i":13,"x":2003,"y":36},{"i":13,"x":2004,"y":38},{"i":13,"x":2005,"y":40},{"i":13,"x":2006,"y":41},{"i":13,"x":2007,"y":42},{"i":13,"x":2008,"y":44},{"i":13,"x":2009,"y":45},{"i":13,"x":2010,"y":47},{"i":13,"x":2011,"y":49},{"i":13,"x":2012,"y":50},{"i":13,"x":2013,"y":52},{"i":13,"x":2014,"y":54},{"i":13,"x":2015,"y":56},{"i":13,"x":2016,"y":60},{"i":13,"x":2017,"y":63},{"i":13,"x":2018,"y":67},{"i":13,"x":2019,"y":70},{"i":13,"x":2020,"y":72.7},
{"i":14,"x":1995,"y":23},{"i":14,"x":1996,"y":24},{"i":14,"x":1997,"y":26},{"i":14,"x":1998,"y":27},{"i":14,"x":1999,"y":28},{"i":14,"x":2000,"y":28},{"i":14,"x":2001,"y":30},{"i":14,"x":2002,"y":32},{"i":14,"x":2003,"y":34},{"i":14,"x":2004,"y":36},{"i":14,"x":2005,"y":38},{"i":14,"x":2006,"y":39},{"i":14,"x":2007,"y":40},{"i":14,"x":2008,"y":42},{"i":14,"x":2009,"y":44},{"i":14,"x":2010,"y":46},{"i":14,"x":2011,"y":48},{"i":14,"x":2012,"y":49},{"i":14,"x":2013,"y":51},{"i":14,"x":2014,"y":52},{"i":14,"x":2015,"y":54},{"i":14,"x":2016,"y":57},{"i":14,"x":2017,"y":61},{"i":14,"x":2018,"y":65},{"i":14,"x":2019,"y":68},{"i":14,"x":2020,"y":71},
{"i":15,"x":1995,"y":22.5},{"i":15,"x":1996,"y":24},{"i":15,"x":1997,"y":27},{"i":15,"x":1998,"y":28},{"i":15,"x":1999,"y":29},{"i":15,"x":2000,"y":29},{"i":15,"x":2001,"y":31},{"i":15,"x":2002,"y":32},{"i":15,"x":2003,"y":34},{"i":15,"x":2004,"y":35},{"i":15,"x":2005,"y":36},{"i":15,"x":2006,"y":38},{"i":15,"x":2007,"y":39},{"i":15,"x":2008,"y":41},{"i":15,"x":2009,"y":43},{"i":15,"x":2010,"y":44},{"i":15,"x":2011,"y":46},{"i":15,"x":2012,"y":48},{"i":15,"x":2013,"y":49},{"i":15,"x":2014,"y":51},{"i":15,"x":2015,"y":52},{"i":15,"x":2016,"y":55},{"i":15,"x":2017,"y":58},{"i":15,"x":2018,"y":62},{"i":15,"x":2019,"y":66},{"i":15,"x":2020,"y":69.3},
{"i":16,"x":1995,"y":21.5},{"i":16,"x":1996,"y":23},{"i":16,"x":1997,"y":24},{"i":16,"x":1998,"y":25},{"i":16,"x":1999,"y":27},{"i":16,"x":2000,"y":27},{"i":16,"x":2001,"y":29},{"i":16,"x":2002,"y":30},{"i":16,"x":2003,"y":32},{"i":16,"x":2004,"y":34},{"i":16,"x":2005,"y":35},{"i":16,"x":2006,"y":37},{"i":16,"x":2007,"y":38},{"i":16,"x":2008,"y":39},{"i":16,"x":2009,"y":40},{"i":16,"x":2010,"y":42},{"i":16,"x":2011,"y":44},{"i":16,"x":2012,"y":45},{"i":16,"x":2013,"y":47},{"i":16,"x":2014,"y":48},{"i":16,"x":2015,"y":50},{"i":16,"x":2016,"y":54},{"i":16,"x":2017,"y":57},{"i":16,"x":2018,"y":61},{"i":16,"x":2019,"y":64},{"i":16,"x":2020,"y":67.4},
{"i":17,"x":1995,"y":20},{"i":17,"x":1996,"y":22},{"i":17,"x":1997,"y":24},{"i":17,"x":1998,"y":25},{"i":17,"x":1999,"y":26},{"i":17,"x":2000,"y":26},{"i":17,"x":2001,"y":28},{"i":17,"x":2002,"y":30},{"i":17,"x":2003,"y":32},{"i":17,"x":2004,"y":33},{"i":17,"x":2005,"y":34},{"i":17,"x":2006,"y":36},{"i":17,"x":2007,"y":37},{"i":17,"x":2008,"y":38},{"i":17,"x":2009,"y":39},{"i":17,"x":2010,"y":40},{"i":17,"x":2011,"y":42},{"i":17,"x":2012,"y":44},{"i":17,"x":2013,"y":45},{"i":17,"x":2014,"y":47},{"i":17,"x":2015,"y":48},{"i":17,"x":2016,"y":52},{"i":17,"x":2017,"y":56},{"i":17,"x":2018,"y":60},{"i":17,"x":2019,"y":63},{"i":17,"x":2020,"y":66.3},
{"i":18,"x":1995,"y":34},{"i":18,"x":1996,"y":35},{"i":18,"x":1997,"y":36},{"i":18,"x":1998,"y":36},{"i":18,"x":1999,"y":38},{"i":18,"x":2000,"y":38},{"i":18,"x":2001,"y":39},{"i":18,"x":2002,"y":40},{"i":18,"x":2003,"y":41},{"i":18,"x":2004,"y":43},{"i":18,"x":2005,"y":44},{"i":18,"x":2006,"y":45},{"i":18,"x":2007,"y":46},{"i":18,"x":2008,"y":46},{"i":18,"x":2009,"y":47},{"i":18,"x":2010,"y":48},{"i":18,"x":2011,"y":49},{"i":18,"x":2012,"y":50},{"i":18,"x":2013,"y":50},{"i":18,"x":2014,"y":51},{"i":18,"x":2015,"y":52},{"i":18,"x":2016,"y":54},{"i":18,"x":2017,"y":55},{"i":18,"x":2018,"y":57},{"i":18,"x":2019,"y":58},{"i":18,"x":2020,"y":60},
{"i":19,"x":1995,"y":18.2},{"i":19,"x":1996,"y":20},{"i":19,"x":1997,"y":22},{"i":19,"x":1998,"y":23},{"i":19,"x":1999,"y":24},{"i":19,"x":2000,"y":24},{"i":19,"x":2001,"y":26},{"i":19,"x":2002,"y":28},{"i":19,"x":2003,"y":30},{"i":19,"x":2004,"y":31},{"i":19,"x":2005,"y":32},{"i":19,"x":2006,"y":33},{"i":19,"x":2007,"y":34},{"i":19,"x":2008,"y":36},{"i":19,"x":2009,"y":37},{"i":19,"x":2010,"y":38},{"i":19,"x":2011,"y":40},{"i":19,"x":2012,"y":41},{"i":19,"x":2013,"y":43},{"i":19,"x":2014,"y":44},{"i":19,"x":2015,"y":46},{"i":19,"x":2016,"y":48},{"i":19,"x":2017,"y":50},{"i":19,"x":2018,"y":52},{"i":19,"x":2019,"y":54},{"i":19,"x":2020,"y":56},
{"i":20,"x":1995,"y":30},{"i":20,"x":1996,"y":30},{"i":20,"x":1997,"y":31},{"i":20,"x":1998,"y":32},{"i":20,"x":1999,"y":33},{"i":20,"x":2000,"y":33},{"i":20,"x":2001,"y":34},{"i":20,"x":2002,"y":35},{"i":20,"x":2003,"y":36},{"i":20,"x":2004,"y":37},{"i":20,"x":2005,"y":38},{"i":20,"x":2006,"y":39},{"i":20,"x":2007,"y":39},{"i":20,"x":2008,"y":40},{"i":20,"x":2009,"y":41},{"i":20,"x":2010,"y":42},{"i":20,"x":2011,"y":43},{"i":20,"x":2012,"y":44},{"i":20,"x":2013,"y":44},{"i":20,"x":2014,"y":45},{"i":20,"x":2015,"y":46},{"i":20,"x":2016,"y":47},{"i":20,"x":2017,"y":49},{"i":20,"x":2018,"y":51},{"i":20,"x":2019,"y":52},{"i":20,"x":2020,"y":53.8},
{"i":21,"x":1995,"y":26},{"i":21,"x":1996,"y":27},{"i":21,"x":1997,"y":28},{"i":21,"x":1998,"y":29},{"i":21,"x":1999,"y":30},{"i":21,"x":2000,"y":30},{"i":21,"x":2001,"y":31},{"i":21,"x":2002,"y":32},{"i":21,"x":2003,"y":33},{"i":21,"x":2004,"y":33},{"i":21,"x":2005,"y":34},{"i":21,"x":2006,"y":35},{"i":21,"x":2007,"y":36},{"i":21,"x":2008,"y":36},{"i":21,"x":2009,"y":37},{"i":21,"x":2010,"y":38},{"i":21,"x":2011,"y":39},{"i":21,"x":2012,"y":40},{"i":21,"x":2013,"y":41},{"i":21,"x":2014,"y":42},{"i":21,"x":2015,"y":44},{"i":21,"x":2016,"y":45},{"i":21,"x":2017,"y":47},{"i":21,"x":2018,"y":48},{"i":21,"x":2019,"y":49},{"i":21,"x":2020,"y":51},
{"i":22,"x":1995,"y":15},{"i":22,"x":1996,"y":17},{"i":22,"x":1997,"y":19},{"i":22,"x":1998,"y":20},{"i":22,"x":1999,"y":22},{"i":22,"x":2000,"y":22},{"i":22,"x":2001,"y":24},{"i":22,"x":2002,"y":25},{"i":22,"x":2003,"y":27},{"i":22,"x":2004,"y":28},{"i":22,"x":2005,"y":30},{"i":22,"x":2006,"y":31},{"i":22,"x":2007,"y":32},{"i":22,"x":2008,"y":33},{"i":22,"x":2009,"y":34},{"i":22,"x":2010,"y":36},{"i":22,"x":2011,"y":37},{"i":22,"x":2012,"y":38},{"i":22,"x":2013,"y":39},{"i":22,"x":2014,"y":40},{"i":22,"x":2015,"y":42},{"i":22,"x":2016,"y":43},{"i":22,"x":2017,"y":44},{"i":22,"x":2018,"y":46},{"i":22,"x":2019,"y":47},{"i":22,"x":2020,"y":48.5},
{"i":23,"x":1995,"y":22},{"i":23,"x":1996,"y":22},{"i":23,"x":1997,"y":23},{"i":23,"x":1998,"y":24},{"i":23,"x":1999,"y":26},{"i":23,"x":2000,"y":26},{"i":23,"x":2001,"y":27},{"i":23,"x":2002,"y":28},{"i":23,"x":2003,"y":29},{"i":23,"x":2004,"y":29},{"i":23,"x":2005,"y":30},{"i":23,"x":2006,"y":31},{"i":23,"x":2007,"y":31},{"i":23,"x":2008,"y":32},{"i":23,"x":2009,"y":33},{"i":23,"x":2010,"y":34},{"i":23,"x":2011,"y":35},{"i":23,"x":2012,"y":36},{"i":23,"x":2013,"y":37},{"i":23,"x":2014,"y":38},{"i":23,"x":2015,"y":40},{"i":23,"x":2016,"y":41},{"i":23,"x":2017,"y":43},{"i":23,"x":2018,"y":44},{"i":23,"x":2019,"y":45},{"i":23,"x":2020,"y":46.6},
{"i":24,"x":1995,"y":14.4},{"i":24,"x":1996,"y":16},{"i":24,"x":1997,"y":18},{"i":24,"x":1998,"y":18},{"i":24,"x":1999,"y":20},{"i":24,"x":2000,"y":20},{"i":24,"x":2001,"y":22},{"i":24,"x":2002,"y":23},{"i":24,"x":2003,"y":25},{"i":24,"x":2004,"y":26},{"i":24,"x":2005,"y":28},{"i":24,"x":2006,"y":29},{"i":24,"x":2007,"y":30},{"i":24,"x":2008,"y":30},{"i":24,"x":2009,"y":31},{"i":24,"x":2010,"y":32},{"i":24,"x":2011,"y":33},{"i":24,"x":2012,"y":34},{"i":24,"x":2013,"y":35},{"i":24,"x":2014,"y":36},{"i":24,"x":2015,"y":38},{"i":24,"x":2016,"y":39},{"i":24,"x":2017,"y":40},{"i":24,"x":2018,"y":42},{"i":24,"x":2019,"y":43},{"i":24,"x":2020,"y":44.7},
{"i":25,"x":1995,"y":12},{"i":25,"x":1996,"y":13},{"i":25,"x":1997,"y":15},{"i":25,"x":1998,"y":16},{"i":25,"x":1999,"y":18},{"i":25,"x":2000,"y":18},{"i":25,"x":2001,"y":20},{"i":25,"x":2002,"y":21},{"i":25,"x":2003,"y":23},{"i":25,"x":2004,"y":24},{"i":25,"x":2005,"y":26},{"i":25,"x":2006,"y":27},{"i":25,"x":2007,"y":28},{"i":25,"x":2008,"y":28},{"i":25,"x":2009,"y":29},{"i":25,"x":2010,"y":30},{"i":25,"x":2011,"y":31},{"i":25,"x":2012,"y":32},{"i":25,"x":2013,"y":33},{"i":25,"x":2014,"y":34},{"i":25,"x":2015,"y":36},{"i":25,"x":2016,"y":37},{"i":25,"x":2017,"y":38},{"i":25,"x":2018,"y":39},{"i":25,"x":2019,"y":40},{"i":25,"x":2020,"y":41.7},
{"i":26,"x":1995,"y":18},{"i":26,"x":1996,"y":18},{"i":26,"x":1997,"y":19},{"i":26,"x":1998,"y":20},{"i":26,"x":1999,"y":22},{"i":26,"x":2000,"y":22},{"i":26,"x":2001,"y":23},{"i":26,"x":2002,"y":23},{"i":26,"x":2003,"y":24},{"i":26,"x":2004,"y":25},{"i":26,"x":2005,"y":26},{"i":26,"x":2006,"y":27},{"i":26,"x":2007,"y":27},{"i":26,"x":2008,"y":28},{"i":26,"x":2009,"y":28},{"i":26,"x":2010,"y":29},{"i":26,"x":2011,"y":30},{"i":26,"x":2012,"y":31},{"i":26,"x":2013,"y":31},{"i":26,"x":2014,"y":32},{"i":26,"x":2015,"y":33},{"i":26,"x":2016,"y":34},{"i":26,"x":2017,"y":35},{"i":26,"x":2018,"y":36},{"i":26,"x":2019,"y":37},{"i":26,"x":2020,"y":37.5},
{"i":27,"x":1995,"y":12},{"i":27,"x":1996,"y":12},{"i":27,"x":1997,"y":13},{"i":27,"x":1998,"y":14},{"i":27,"x":1999,"y":15},{"i":27,"x":2000,"y":16},{"i":27,"x":2001,"y":16},{"i":27,"x":2002,"y":17},{"i":27,"x":2003,"y":18},{"i":27,"x":2004,"y":19},{"i":27,"x":2005,"y":20},{"i":27,"x":2006,"y":23},{"i":27,"x":2007,"y":23},{"i":27,"x":2008,"y":23},{"i":27,"x":2009,"y":24},{"i":27,"x":2010,"y":25},{"i":27,"x":2011,"y":25},{"i":27,"x":2012,"y":25},{"i":27,"x":2013,"y":24},{"i":27,"x":2014,"y":24},{"i":27,"x":2015,"y":26},{"i":27,"x":2016,"y":26},{"i":27,"x":2017,"y":27},{"i":27,"x":2018,"y":28},{"i":27,"x":2019,"y":29},{"i":27,"x":2020,"y":29.5},
{"i":28,"x":1995,"y":8.3},{"i":28,"x":1996,"y":8.3},{"i":28,"x":1997,"y":8.3},{"i":28,"x":1998,"y":8.3},{"i":28,"x":1999,"y":11},{"i":28,"x":2000,"y":11.5},{"i":28,"x":2001,"y":12},{"i":28,"x":2002,"y":12.5},{"i":28,"x":2003,"y":13},{"i":28,"x":2004,"y":14},{"i":28,"x":2005,"y":14.5},{"i":28,"x":2006,"y":19},{"i":28,"x":2007,"y":19.5},{"i":28,"x":2008,"y":20},{"i":28,"x":2009,"y":20.5},{"i":28,"x":2010,"y":21},{"i":28,"x":2011,"y":21},{"i":28,"x":2012,"y":21},{"i":28,"x":2013,"y":20},{"i":28,"x":2014,"y":22},{"i":28,"x":2015,"y":23},{"i":28,"x":2016,"y":24},{"i":28,"x":2017,"y":25},{"i":28,"x":2018,"y":26},{"i":28,"x":2019,"y":26},{"i":28,"x":2020,"y":26.5},
{"i":29,"x":1995,"y":28},{"i":29,"x":1996,"y":30},{"i":29,"x":1997,"y":33},{"i":29,"x":1998,"y":34},{"i":29,"x":1999,"y":38},{"i":29,"x":2000,"y":40},{"i":29,"x":2001,"y":43},{"i":29,"x":2002,"y":46},{"i":29,"x":2003,"y":50},{"i":29,"x":2004,"y":54},{"i":29,"x":2005,"y":58},{"i":29,"x":2006,"y":61},{"i":29,"x":2007,"y":62},{"i":29,"x":2008,"y":63},{"i":29,"x":2009,"y":64},{"i":29,"x":2010,"y":66},{"i":29,"x":2011,"y":67},{"i":29,"x":2012,"y":68},{"i":29,"x":2013,"y":68},{"i":29,"x":2014,"y":70},{"i":29,"x":2015,"y":72},{"i":29,"x":2016,"y":76},{"i":29,"x":2017,"y":80},{"i":29,"x":2018,"y":84},{"i":29,"x":2019,"y":86},{"i":29,"x":2020,"y":86.4},
{"i":30,"x":1995,"y":32},{"i":30,"x":1996,"y":33},{"i":30,"x":1997,"y":35},{"i":30,"x":1998,"y":36},{"i":30,"x":1999,"y":40},{"i":30,"x":2000,"y":41},{"i":30,"x":2001,"y":42},{"i":30,"x":2002,"y":44},{"i":30,"x":2003,"y":46},{"i":30,"x":2004,"y":49},{"i":30,"x":2005,"y":52},{"i":30,"x":2006,"y":54},{"i":30,"x":2007,"y":55},{"i":30,"x":2008,"y":56},{"i":30,"x":2009,"y":58},{"i":30,"x":2010,"y":60},{"i":30,"x":2011,"y":63},{"i":30,"x":2012,"y":65},{"i":30,"x":2013,"y":66},{"i":30,"x":2014,"y":70},{"i":30,"x":2015,"y":73},{"i":30,"x":2016,"y":78},{"i":30,"x":2017,"y":84},{"i":30,"x":2018,"y":88},{"i":30,"x":2019,"y":91},{"i":30,"x":2020,"y":92}
]
},
"layer":[
{
"data":{"name":"west"},
"mark":{"type":"line","opacity":0.85},
"encoding":{
"x":{"field":"x","type":"quantitative","title":"Year","scale":{"domain":[1993.987,2020.754],"nice":false,"zero":false},
"axis":{"values":[1995,2000,2005,2010,2015,2020],"format":"d","domain":false,"tickSize":20,"tickColor":"#111","tickWidth":1.2,"labelFont":"Liberation Sans","labelFontSize":14,"labelColor":"#222","labelPadding":43,"labelBaseline":"middle","grid":true,"gridColor":"#c4c4c4","gridDash":[3,4],"gridWidth":1,"titleFont":"Liberation Sans","titleFontSize":30,"titleFontWeight":"normal","titleColor":"#222","titleBaseline":"bottom","titleX":544,"titleY":107}},
"y":{"field":"y","type":"quantitative","title":"# of whales (age 1+)","scale":{"domain":[0,250],"nice":false},
"axis":{"values":[0,50,100,150,200,250],"domain":true,"domainColor":"#222","domainWidth":1.5,"tickSize":18,"tickColor":"#222","tickWidth":1.5,"labelAngle":270,"labelAlign":"center","labelBaseline":"middle","labelPadding":32,"labelFont":"Liberation Sans","labelFontSize":14,"labelColor":"#222","grid":true,"gridColor":"#c4c4c4","gridDash":[3,4],"gridWidth":1,"titleFont":"Liberation Sans","titleFontSize":30,"titleFontWeight":"normal","titleColor":"#222","titleX":-81,"titleY":280,"titleBaseline":"middle","titleAlign":"center"}},
"detail":{"field":"i","type":"nominal"},
"color":{"datum":"Western gray whales","type":"nominal","scale":{"domain":["Total (eastern + western)","Western gray whales"],"range":["#7b1a5a","#2a9d8c"]},
"legend":{"orient":"none","legendX":17.5,"legendY":19.5,"title":null,"symbolType":"M-2,0H2","symbolSize":552,"labelFontSize":25,"labelFont":"Liberation Sans","labelColor":"#1a1a1a","labelLimit":0,"labelOffset":31.5,"rowPadding":5,"padding":0}},
"strokeWidth":{"datum":"Western gray whales","type":"ordinal","scale":{"domain":["Total (eastern + western)","Western gray whales"],"range":[4.5,1.3]},
"legend":{"orient":"none","legendX":17.5,"legendY":19.5,"title":null,"symbolType":"M-2,0H2","symbolSize":552,"labelFontSize":25,"labelFont":"Liberation Sans","labelColor":"#1a1a1a","labelLimit":0,"labelOffset":31.5,"rowPadding":5,"padding":0}},
"strokeDash":{"datum":"Western gray whales","type":"nominal","scale":{"domain":["Total (eastern + western)","Western gray whales"],"range":[[30,4],[1,0]]},
"legend":{"orient":"none","legendX":17.5,"legendY":19.5,"title":null,"symbolType":"M-2,0H2","symbolSize":552,"labelFontSize":25,"labelFont":"Liberation Sans","labelColor":"#1a1a1a","labelLimit":0,"labelOffset":31.5,"rowPadding":5,"padding":0}}
}
},
{
"data":{"name":"med"},
"mark":{"type":"line"},
"encoding":{
"x":{"field":"x","type":"quantitative","title":"Year","scale":{"domain":[1993.987,2020.754],"nice":false,"zero":false}},
"y":{"field":"y","type":"quantitative","title":"# of whales (age 1+)","scale":{"domain":[0,250],"nice":false}},
"color":{"datum":"Total (eastern + western)","type":"nominal","scale":{"domain":["Total (eastern + western)","Western gray whales"],"range":["#7b1a5a","#2a9d8c"]},
"legend":{"orient":"none","legendX":17.5,"legendY":19.5,"title":null,"symbolType":"M-2,0H2","symbolSize":552,"labelFontSize":25,"labelFont":"Liberation Sans","labelColor":"#1a1a1a","labelLimit":0,"labelOffset":31.5,"rowPadding":5,"padding":0}},
"strokeWidth":{"datum":"Total (eastern + western)","type":"ordinal","scale":{"domain":["Total (eastern + western)","Western gray whales"],"range":[4.5,1.3]},
"legend":{"orient":"none","legendX":17.5,"legendY":19.5,"title":null,"symbolType":"M-2,0H2","symbolSize":552,"labelFontSize":25,"labelFont":"Liberation Sans","labelColor":"#1a1a1a","labelLimit":0,"labelOffset":31.5,"rowPadding":5,"padding":0}},
"strokeDash":{"datum":"Total (eastern + western)","type":"nominal","scale":{"domain":["Total (eastern + western)","Western gray whales"],"range":[[30,4],[1,0]]},
"legend":{"orient":"none","legendX":17.5,"legendY":19.5,"title":null,"symbolType":"M-2,0H2","symbolSize":552,"labelFontSize":25,"labelFont":"Liberation Sans","labelColor":"#1a1a1a","labelLimit":0,"labelOffset":31.5,"rowPadding":5,"padding":0}}
}
},
{
"data":{"name":"total"},
"mark":{"type":"line","strokeWidth":1.3,"opacity":0.85,"color":"#7b1a5a"},
"encoding":{
"x":{"field":"x","type":"quantitative","title":"Year","scale":{"domain":[1993.987,2020.754],"nice":false,"zero":false}},
"y":{"field":"y","type":"quantitative","title":"# of whales (age 1+)","scale":{"domain":[0,250],"nice":false}},
"detail":{"field":"i","type":"nominal"}
}
},
{
"data":{"name":"hl"},
"mark":{"type":"rule","color":"#222","strokeDash":[4,2],"strokeWidth":1.2},
"encoding":{
"y":{"field":"y","type":"quantitative","title":"# of whales (age 1+)","scale":{"domain":[0,250],"nice":false}}
}
}
]
}
